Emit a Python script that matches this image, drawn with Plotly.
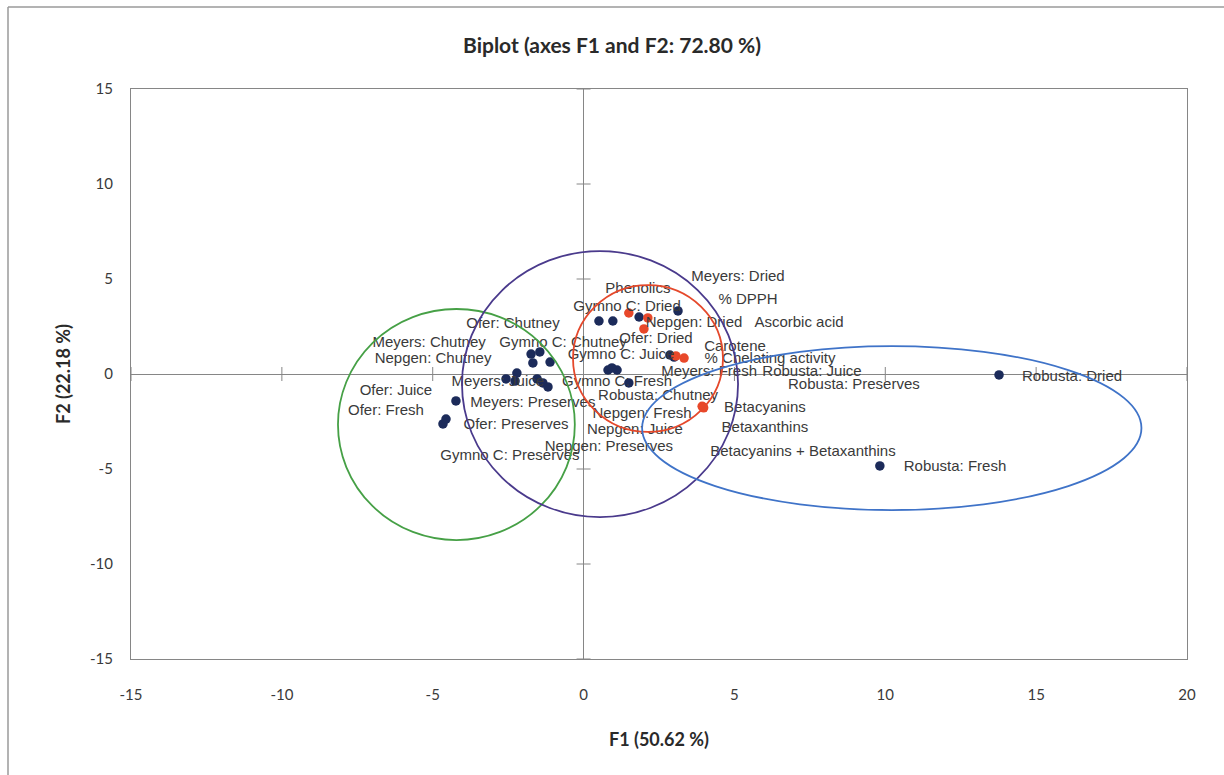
import plotly.graph_objects as go

# --- Observations (variety: treatment) projected on F1/F2 ---
obs_names = [
    "Robusta: Dried", "Robusta: Fresh",
    "Ofer: Juice", "Ofer: Fresh", "Gymno C: Preserves",
    "Ofer: Chutney", "Gymno C: Chutney", "Meyers: Chutney", "Nepgen: Chutney",
    "Meyers: Juice", "Meyers: Preserves", "Ofer: Preserves", "Nepgen: Preserves",
    "Nepgen: Juice", "Nepgen: Fresh",
    "Gymno C: Dried", "Ofer: Dried", "Nepgen: Dried", "Meyers: Dried",
    "Gymno C: Juice", "Gymno C: Fresh", "Robusta: Chutney", "Meyers: Fresh",
    "Robusta: Juice", "Robusta: Preserves",
]
obs_f1 = [13.77, 9.82,
          -4.23, -4.66, -4.56,
          -1.74, -1.45, -1.68, -1.11,
          -2.57, -2.21, -2.27, -1.54,
          -1.35, -1.18,
          0.51, 0.97, 1.84, 3.13,
          0.81, 1.11, 1.50, 0.94,
          2.86, 3.00]
obs_f2 = [-0.05, -4.84,
          -1.42, -2.63, -2.37,
          1.05, 1.16, 0.58, 0.63,
          -0.26, 0.05, -0.37, -0.26,
          -0.47, -0.68,
          2.79, 2.79, 3.00, 3.32,
          0.21, 0.21, -0.47, 0.32,
          1.00, 0.89]

# --- Active variables ---
var_names = ["Phenolics", "% DPPH", "Ascorbic acid", "Carotene",
             "% Chelating activity", "Betacyanins", "Betaxanthins",
             "Betacyanins + Betaxanthins"]
var_f1 = [1.50, 2.13, 2.00, 3.06, 3.33, 3.96, 3.93, 3.98]
var_f2 = [3.21, 2.95, 2.37, 0.95, 0.84, -1.74, -1.70, -1.78]

# Label anchor points (moved away from markers to limit overlap)
obs_label_f1 = [16.19, 12.31,
                -6.22, -6.55, -2.44,
                -2.34, -0.68, -5.12, -4.99,
                -2.84, -1.68, -2.24, 0.84,
                1.70, 1.94,
                1.44, 2.40, 3.66, 5.12,
                1.24, 1.11, 2.47, 4.16,
                7.57, 8.96]
obs_label_f2 = [-0.16, -4.89,
                -0.89, -1.95, -4.32,
                2.63, 1.63, 1.63, 0.79,
                -0.42, -1.53, -2.68, -3.84,
                -2.95, -2.11,
                3.53, 1.84, 2.68, 5.11,
                1.00, -0.42, -1.16, 0.11,
                0.11, -0.58]
var_label_f1 = [1.80, 5.45, 7.14, 5.02, 6.18, 6.01, 6.01, 7.27]
var_label_f2 = [4.47, 3.89, 2.68, 1.42, 0.79, -1.79, -2.84, -4.11]

# Group outlines (F1 min, F1 max, F2 min, F2 max)
groups = [
    ("#46a046", (-8.14, -0.29, -8.74, 3.42)),
    ("#4a3a8c", (-4.03, 5.12, -7.53, 6.47)),
    ("#e5482b", (-0.35, 4.62, -3.05, 4.68)),
    ("#3f73c8", (1.94, 18.49, -7.16, 1.47)),
]

x_ticks = [-15, -10, -5, 0, 5, 10, 15, 20]
y_ticks = [-15, -10, -5, 0, 5, 10, 15]

AX = "#868686"
TXT = "#3a3a3a"

fig = go.Figure()

# tick marks crossing the zero axes
fig.add_trace(go.Scatter(
    x=[t for t in x_ticks if t != 0], y=[0] * (len(x_ticks) - 1),
    mode="markers", hoverinfo="skip", showlegend=False,
    marker=dict(symbol="line-ns", size=10, line=dict(color=AX, width=1))))
fig.add_trace(go.Scatter(
    x=[0] * (len(y_ticks) - 1), y=[t for t in y_ticks if t != 0],
    mode="markers", hoverinfo="skip", showlegend=False,
    marker=dict(symbol="line-ew", size=10, line=dict(color=AX, width=1))))

fig.add_trace(go.Scatter(
    x=obs_f1, y=obs_f2, mode="markers", text=obs_names, name="Observations",
    hovertemplate="%{text}<br>F1=%{x}<br>F2=%{y}<extra></extra>",
    marker=dict(color="#1c2b5a", size=9.5), showlegend=False))
fig.add_trace(go.Scatter(
    x=var_f1, y=var_f2, mode="markers", text=var_names, name="Variables",
    hovertemplate="%{text}<br>F1=%{x}<br>F2=%{y}<extra></extra>",
    marker=dict(color="#e8482a", size=9.5), showlegend=False))

fig.add_trace(go.Scatter(
    x=obs_label_f1 + var_label_f1, y=obs_label_f2 + var_label_f2,
    text=obs_names + var_names, mode="text", textposition="middle center",
    hoverinfo="skip", showlegend=False,
    textfont=dict(family="Liberation Sans, Arial", size=15, color=TXT)))

for color, (x0, x1, y0, y1) in groups:
    fig.add_shape(type="circle", xref="x", yref="y", x0=x0, x1=x1, y0=y0, y1=y1,
                  line=dict(color=color, width=1.8), layer="above")

# chart-area frame
W, H = 1224, 775
L, R, T, B = 131, 37, 89, 116
pw, ph = W - L - R, H - T - B
def px_x(p): return (p - L) / pw
def px_y(p): return (H - B - p) / ph
fig.add_shape(type="line", xref="paper", yref="paper",
              x0=px_x(8), x1=px_x(1224), y0=px_y(7), y1=px_y(7),
              line=dict(color="#9a9a9a", width=1.5))
fig.add_shape(type="line", xref="paper", yref="paper",
              x0=px_x(8), x1=px_x(8), y0=px_y(7), y1=px_y(775),
              line=dict(color="#9a9a9a", width=1.5))

fig.update_layout(
    width=W, height=H,
    margin=dict(l=L, r=R, t=T, b=B),
    paper_bgcolor="white", plot_bgcolor="white",
    title=dict(text="<b>Biplot (axes F1 and F2: 72.80 %)</b>",
               x=px_x(612), xref="paper", xanchor="center",
               y=1 - 46 / H, yanchor="middle",
               font=dict(family="Lato", size=21, color="#2a2a2a")),
    xaxis=dict(range=[-15, 20], tickvals=x_ticks,
               ticktext=[str(t) for t in x_ticks], showgrid=False,
               zeroline=True, zerolinecolor=AX, zerolinewidth=1,
               showline=True, mirror=True, linecolor=AX, linewidth=1.2,
               ticks="", ticklabelstandoff=22,
               tickfont=dict(family="Lato", size=15, color=TXT),
               title=dict(text="<b>F1 (50.62 %)</b>", standoff=31,
                          font=dict(family="Lato", size=18, color="#2a2a2a"))),
    yaxis=dict(range=[-15, 15], tickvals=y_ticks,
               ticktext=[str(t) for t in y_ticks], showgrid=False,
               zeroline=True, zerolinecolor=AX, zerolinewidth=1,
               showline=True, mirror=True, linecolor=AX, linewidth=1.2,
               ticks="", ticklabelstandoff=14,
               tickfont=dict(family="Lato", size=15, color=TXT),
               title=dict(text="<b>F2 (22.18 %)</b>", standoff=14,
                          font=dict(family="Lato", size=18, color="#2a2a2a"))),
)

fig.write_html("out.html")
